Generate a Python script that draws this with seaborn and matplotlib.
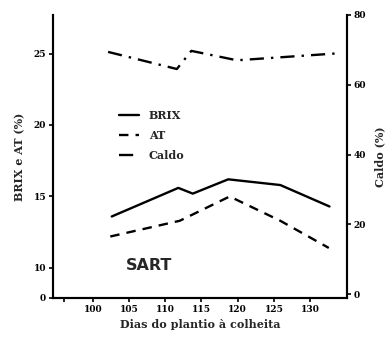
import matplotlib
matplotlib.use("Agg")
import matplotlib.pyplot as plt
import seaborn as sns
import pandas as pd

# ---- data ----
brix_days = [102.6, 111.8, 113.8, 118.7, 125.9, 132.7]
brix = [13.6, 15.6, 15.2, 16.2, 15.8, 14.3]
at_days = [102.4, 112.0, 118.9, 125.9, 132.6]
at = [12.2, 13.3, 15.0, 13.3, 11.4]
caldo_days = [102.1, 111.6, 113.6, 119.9, 133.9]
caldo = [69.4, 64.5, 69.7, 67.0, 69.0]

x_ticks = [100, 105, 110, 115, 120, 125, 130]
x_tick_labels = ["100", "105", "110", "115", "120", "125", "130"]
left_ticks = [10, 15, 20, 25]
left_labels = ["10", "15", "20", "25"]
right_ticks = [0, 20, 40, 60, 80]
right_labels = ["0", "20", "40", "60", "80"]

sns.set_style("ticks")
plt.rcParams["font.family"] = ["DejaVu Serif"]

fig = plt.figure(figsize=(3.85, 3.39), dpi=100)
ax = fig.add_axes([0.138, 0.121, 0.763, 0.835])
ax2 = ax.twinx()

df_b = pd.DataFrame({"d": brix_days, "v": brix})
df_a = pd.DataFrame({"d": at_days, "v": at})
df_c = pd.DataFrame({"d": caldo_days, "v": caldo})

sns.lineplot(data=df_b, x="d", y="v", ax=ax, color="black", lw=1.7,
             label="BRIX", sort=True)
sns.lineplot(data=df_a, x="d", y="v", ax=ax, color="black", lw=1.7,
             linestyle=(0, (4, 3)), label="AT", sort=True)
sns.lineplot(data=df_c, x="d", y="v", ax=ax2, color="black", lw=1.7,
             linestyle=(0, (6, 3, 1, 3)), label="Caldo", sort=True)

xmin, xmax = 94.5, 135.1
ymin, ymax = 7.9, 27.7
ax.set_xlim(xmin, xmax)
ax.set_ylim(ymin, ymax)
ax2.set_ylim(-1.1, 80.0)

tick_font = dict(fontsize=6.5, fontweight="bold")
ax.set_xticks([96] + x_ticks)
ax.set_xticklabels([""] + x_tick_labels, **tick_font)
ax.set_yticks([ymin] + left_ticks)
ax.set_yticklabels(["0"] + left_labels, **tick_font)
ax2.set_yticks(right_ticks)
ax2.set_yticklabels(right_labels, **tick_font)

for a in (ax, ax2):
    a.tick_params(direction="out", length=3, width=1.2, pad=2, colors="black")
    a.spines["top"].set_visible(False)
    for s in a.spines.values():
        s.set_linewidth(1.5)
        s.set_color("black")

ax.set_xlabel("Dias do plantio à colheita", fontsize=8, fontweight="bold", labelpad=4)
ax.set_ylabel("BRIX e AT (%)", fontsize=8, fontweight="bold", labelpad=6)
ax2.set_ylabel("Caldo (%)", fontsize=8, fontweight="bold", labelpad=6)

ax.text(107.8, 10.2, "SART", fontsize=11.5, fontweight="bold",
        family="DejaVu Sans", ha="center", va="center")

h1, l1 = ax.get_legend_handles_labels()
h2, l2 = ax2.get_legend_handles_labels()
if ax2.get_legend():
    ax2.get_legend().remove()
if ax.get_legend():
    ax.get_legend().remove()
leg = ax.legend(h1 + h2, l1 + l2, loc="upper left", bbox_to_anchor=(0.19, 0.70),
                frameon=False, handlelength=1.8, handletextpad=0.9,
                labelspacing=0.8, prop=dict(size=8, weight="bold"))

fig.savefig("out.png", dpi=100)
